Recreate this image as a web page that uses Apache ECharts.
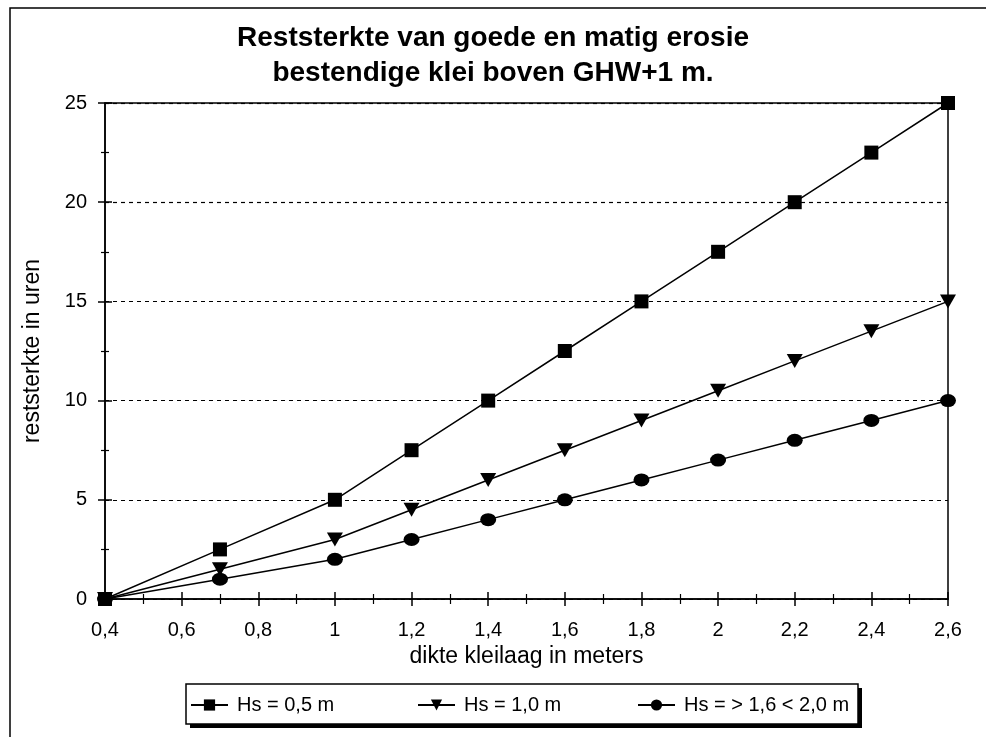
<!DOCTYPE html>
<html>
<head>
<meta charset="utf-8">
<script src="https://cdn.jsdelivr.net/npm/echarts@6/dist/echarts.min.js"></script>
<style>
  html, body { margin: 0; padding: 0; background: #fff; }
  #chart { width: 986px; height: 737px; }
</style>
</head>
<body>
<div id="chart"></div>
<script>
// dikte kleilaag (m)
var dikte = [0.4, 0.7, 1.0, 1.2, 1.4, 1.6, 1.8, 2.0, 2.2, 2.4, 2.6];
// reststerkte in uren per golfhoogte
var hs05 = [0, 2.5, 5, 7.5, 10, 12.5, 15, 17.5, 20, 22.5, 25];
var hs10 = [0, 1.5, 3, 4.5, 6, 7.5, 9, 10.5, 12, 13.5, 15];
var hs16 = [0, 1, 2, 3, 4, 5, 6, 7, 8, 9, 10];
var namen = ['Hs = 0,5 m', 'Hs = 1,0 m', 'Hs = > 1,6 < 2,0 m'];

function pairs(ys) {
  return dikte.map(function (x, i) { return [x, ys[i]]; });
}
function komma(v) {
  return String(+(+v).toFixed(1)).replace('.', ',');
}

var font = 'Liberation Sans, Arial, sans-serif';
var myChart = echarts.init(document.getElementById('chart'));

var lijn = { color: '#000', width: 1.5 };

// legenda: één component per reeks, zodat de plaatsen kloppen
var legLeft = [190, 417, 637];
var legends = namen.map(function (n, i) {
  return {
    data: [n],
    left: legLeft[i], top: 695,
    padding: 0,
    itemWidth: 37, itemHeight: 14,
    itemGap: 0,
    textStyle: { fontSize: 20, color: '#000', fontFamily: font, padding: [0, 0, 0, 4] }
  };
});

var option = {
  backgroundColor: '#fff',
  animation: false,
  textStyle: { fontFamily: font, color: '#000' },
  title: {
    text: 'Reststerkte van goede en matig erosie\nbestendige klei boven GHW+1 m.',
    left: 'center',
    top: 16,
    textStyle: { fontSize: 28, fontWeight: 'bold', lineHeight: 35, fontFamily: font, color: '#000' }
  },
  graphic: [{
    type: 'rect',
    shape: { x: 10, y: 8, width: 990, height: 740 },
    style: { fill: 'none', stroke: '#000', lineWidth: 1.5 },
    silent: true
  }, {
    type: 'rect',
    shape: { x: 190, y: 688, width: 672, height: 40 },
    style: { fill: '#000' },
    silent: true
  }, {
    type: 'rect',
    shape: { x: 186, y: 684, width: 672, height: 40 },
    style: { fill: '#fff', stroke: '#000', lineWidth: 1.5 },
    silent: true
  }],
  grid: {
    left: 105, right: 38, top: 103, bottom: 138,
    show: true, borderColor: '#000', borderWidth: 1.5
  },
  legend: legends,
  xAxis: [{
    type: 'value',
    min: 0.4, max: 2.6, interval: 0.2,
    name: 'dikte kleilaag in meters',
    nameLocation: 'middle', nameGap: 41,
    nameTextStyle: { fontSize: 23, color: '#000' },
    axisLine: { onZero: false, lineStyle: { color: '#000', width: 1.5 } },
    axisTick: { length: 7, lineStyle: { color: '#000', width: 1.5 } },
    minorTick: { show: true, splitNumber: 2, length: 5, lineStyle: { color: '#000', width: 1.2 } },
    axisLabel: { fontSize: 20, color: '#000', margin: 21, formatter: komma },
    splitLine: { show: false }
  }, {
    type: 'value', position: 'bottom',
    min: 0.4, max: 2.6, interval: 0.2,
    axisLine: { show: false },
    axisTick: { inside: true, length: 7, lineStyle: { color: '#000', width: 1.5 } },
    minorTick: { show: true, splitNumber: 2, length: 5, lineStyle: { color: '#000', width: 1.2 } },
    axisLabel: { show: false },
    splitLine: { show: false }
  }],
  yAxis: [{
    type: 'value',
    min: 0, max: 25, interval: 5,
    name: 'reststerkte in uren',
    nameLocation: 'middle', nameGap: 61,
    nameTextStyle: { fontSize: 23, color: '#000' },
    axisLine: { show: true, onZero: false, lineStyle: { color: '#000', width: 1.5 } },
    axisTick: { show: true, length: 7, lineStyle: { color: '#000', width: 1.5 } },
    minorTick: { show: true, splitNumber: 2, length: 4, lineStyle: { color: '#000', width: 1.2 } },
    axisLabel: { fontSize: 20, color: '#000', margin: 18 },
    splitLine: { show: true, lineStyle: { color: '#000', type: [4, 4], width: 1.2 } }
  }, {
    type: 'value', position: 'left',
    min: 0, max: 25, interval: 5,
    axisLine: { show: false },
    axisTick: { show: true, inside: true, length: 7, lineStyle: { color: '#000', width: 1.5 } },
    minorTick: { show: true, splitNumber: 2, length: 4, lineStyle: { color: '#000', width: 1.2 } },
    axisLabel: { show: false },
    splitLine: { show: false }
  }],
  series: [{
    name: namen[0], type: 'line', data: pairs(hs05),
    symbol: 'rect', symbolSize: 14, clip: false,
    lineStyle: lijn, itemStyle: { color: '#000' }
  }, {
    name: namen[1], type: 'line', data: pairs(hs10),
    symbol: 'triangle', symbolRotate: 180, symbolSize: [16, 14], clip: false,
    lineStyle: lijn, itemStyle: { color: '#000' }
  }, {
    name: namen[2], type: 'line', data: pairs(hs16),
    symbol: 'circle', symbolSize: [16, 13], clip: false,
    lineStyle: lijn, itemStyle: { color: '#000' }
  }]
};

myChart.setOption(option);
</script>
</body>
</html>
